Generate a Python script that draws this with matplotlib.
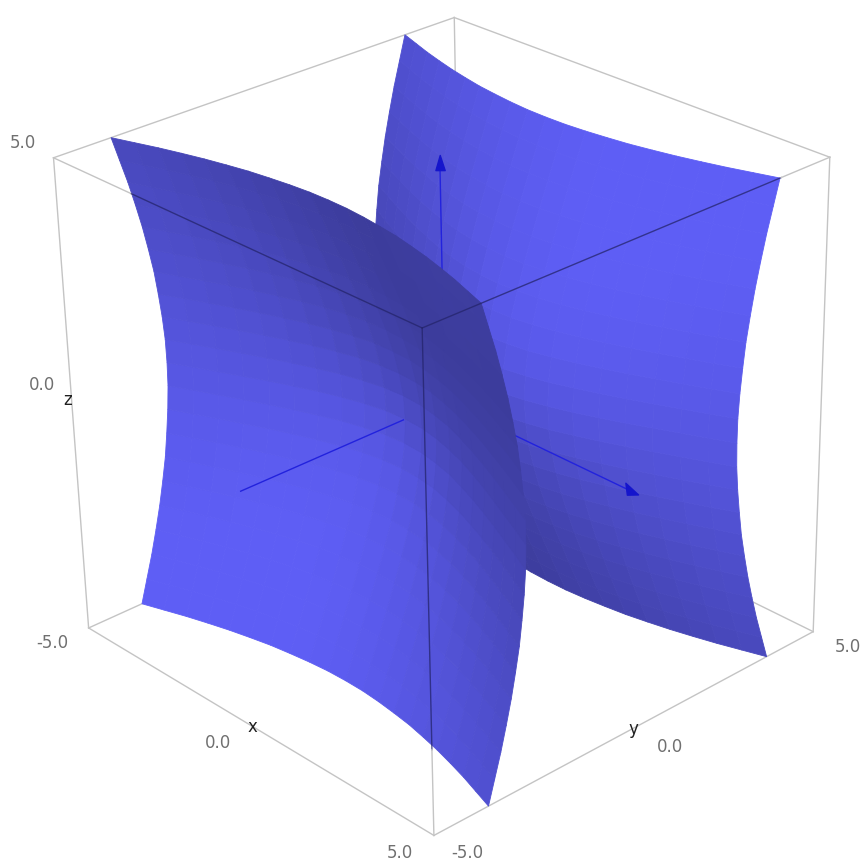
import matplotlib
matplotlib.use('Agg')
import matplotlib.pyplot as plt
from mpl_toolkits.mplot3d.art3d import Poly3DCollection
import numpy as np

W, H = 866, 867

# half-gap between sheet and the xz plane, one quadrant, x and z from 0 to 5
grid = [0.0, 0.5, 1.0, 1.5, 2.0, 2.5, 3.0, 3.5, 4.0, 4.5, 5.0]
depth = [
    [1.00, 1.03, 1.12, 1.25, 1.41, 1.60, 1.80, 2.02, 2.24, 2.46, 2.69],
    [1.03, 1.06, 1.15, 1.27, 1.44, 1.62, 1.82, 2.03, 2.25, 2.47, 2.70],
    [1.12, 1.15, 1.22, 1.35, 1.50, 1.68, 1.87, 2.08, 2.29, 2.51, 2.74],
    [1.25, 1.27, 1.35, 1.46, 1.60, 1.77, 1.95, 2.15, 2.36, 2.57, 2.80],
    [1.41, 1.44, 1.50, 1.60, 1.73, 1.89, 2.06, 2.25, 2.45, 2.66, 2.87],
    [1.60, 1.62, 1.68, 1.77, 1.89, 2.03, 2.19, 2.37, 2.56, 2.76, 2.97],
    [1.80, 1.82, 1.87, 1.95, 2.06, 2.19, 2.35, 2.51, 2.69, 2.88, 3.08],
    [2.02, 2.03, 2.08, 2.15, 2.25, 2.37, 2.51, 2.67, 2.84, 3.02, 3.21],
    [2.24, 2.25, 2.29, 2.36, 2.45, 2.56, 2.69, 2.84, 3.00, 3.17, 3.35],
    [2.46, 2.47, 2.51, 2.57, 2.66, 2.76, 2.88, 3.02, 3.17, 3.34, 3.51],
    [2.69, 2.70, 2.74, 2.80, 2.87, 2.97, 3.08, 3.21, 3.35, 3.51, 3.67],
]

tick_labels = [
    ('5.0', 23, 143), ('0.0', 42, 385), ('-5.0', 52, 643),
    ('0.0', 218, 743), ('5.0', 400, 853),
    ('-5.0', 467, 853), ('0.0', 670, 747), ('5.0', 848, 647),
]
axis_labels = [('x', 252, 727), ('y', 633, 729), ('z', 68, 400)]

GREY = '#c4c4c4'
DARK = (0.14, 0.14, 0.42, 0.75)
AXIS = '#2222dd'


def sheet_colors(X, Y, Z):
    # flat shading from the normals of the mesh
    nx = -X / 4
    ny = Y.copy()
    nz = -Z / 4
    L = np.array([-0.5, 0.39, -0.75])
    n = np.sqrt(nx**2 + ny**2 + nz**2)
    s = np.abs(nx * L[0] + ny * L[1] + nz * L[2]) / n
    s = (s[:-1, :-1] + s[1:, 1:] + s[1:, :-1] + s[:-1, 1:]) / 4
    s = np.clip(s / 0.72, 0, 1)
    lo = np.array([60, 60, 155]) / 255
    hi = np.array([94, 94, 245]) / 255
    return lo + (hi - lo) * s[..., None]


q = np.array(grid)
side = np.concatenate([-q[:0:-1], q])
d = np.array(depth)
d = np.concatenate([d[:0:-1], d], axis=0)
d = np.concatenate([d[:, :0:-1], d], axis=1)
X, Z = np.meshgrid(side, side)

fig = plt.figure(figsize=(W / 100, H / 100), dpi=100)
ax = fig.add_axes([0 / W, 20 / H, 1, 1], projection='3d', computed_zorder=False)
ax.set_proj_type('persp', focal_length=0.75)
ax.set_box_aspect((1, 1, 1), zoom=1.03)
ax.view_init(elev=27.2, azim=-42.2, roll=1.15)
ax.set_xlim(-5, 5)
ax.set_ylim(-5, 5)
ax.set_zlim(-5, 5)
ax.set_axis_off()

# back of the frame, under the sheets
back = [
    ([-5, -5], [-5, 5], [5, 5]), ([-5, 5], [5, 5], [5, 5]), ([-5, -5], [5, 5], [-5, 5]),
    ([-5, -5], [-5, 5], [-5, -5]), ([-5, 5], [5, 5], [-5, -5]),
    ([-5, 5], [-5, -5], [-5, -5]), ([5, 5], [-5, 5], [-5, -5]),
    ([-5, -5], [-5, -5], [-5, 5]), ([5, 5], [5, 5], [-5, 5]),
]
for xs, ys, zs in back:
    ax.plot(xs, ys, zs, color=GREY, lw=1, zorder=1)

# sheet on the far side, then the near one
for sign, z0 in [(1, 2), (-1, 5)]:
    Y = sign * d
    cols = sheet_colors(X, Y, Z)
    surf = ax.plot_surface(X, Y, Z, rstride=1, cstride=1, facecolors=cols,
                           shade=False, linewidth=0.6, antialiased=True, zorder=z0)
    surf.set_edgecolor(cols.reshape(-1, 3))
    if sign == 1:
        # axes in front of the far sheet and behind the near one
        ax.plot([0, 4.9], [0, 0], [0, 0], color=AXIS, lw=1, zorder=3)
        ax.plot([0, 0], [0, 0], [0, 4.9], color=AXIS, lw=1, zorder=3)
        ax.add_collection3d(Poly3DCollection([[(5.1, 0, 0), (4.8, -0.02, 0.13), (4.8, 0.02, -0.13)]],
                                             color='#1515cc', zorder=3))
        ax.add_collection3d(Poly3DCollection([[(0, 0, 5.05), (0.06, 0.06, 4.75), (-0.06, -0.06, 4.75)]],
                                             color='#1515cc', zorder=3))

# axis sticking out of the near sheet
ax.plot([0, 0], [-1.05, -5], [0, 0], color=AXIS, lw=1, zorder=7)

# front of the frame, dark where it lies over a sheet
front = [
    ([-5, -2.7], [-5, -5], [5, 5], GREY), ([-2.7, 5], [-5, -5], [5, 5], DARK),
    ([5, 5], [-5, 3.7], [5, 5], DARK), ([5, 5], [3.7, 5], [5, 5], GREY),
    ([5, 5], [-5, -5], [5, -3.2], DARK), ([5, 5], [-5, -5], [-3.2, -5], GREY),
]
for xs, ys, zs, c in front:
    ax.plot(xs, ys, zs, color=c, lw=1, zorder=8)

for t, px, py in tick_labels:
    fig.text(px / W, 1 - py / H, t, color='#707070', fontsize=12, ha='center', va='center')
for t, px, py in axis_labels:
    fig.text(px / W, 1 - py / H, t, color='#202020', fontsize=12, ha='center', va='center')

fig.savefig('out.png', dpi=100)
